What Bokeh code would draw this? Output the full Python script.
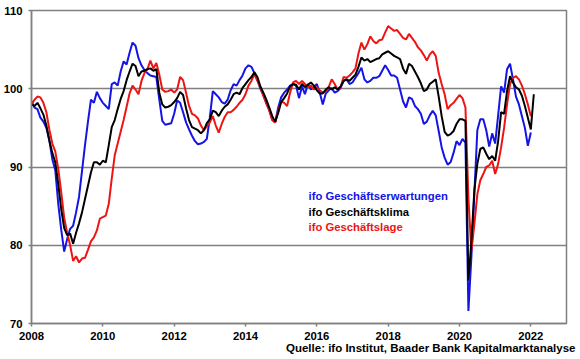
import numpy as np
from bokeh.plotting import figure
from bokeh.models import FixedTicker, Label, Title
from bokeh.embed import file_html
from bokeh.resources import INLINE

start_year = 2008  # first month: January 2008, monthly data

# ifo Geschäftserwartungen (blue), Jan 2008 - Jan 2022
erwartungen = [
    98.4, 97.6, 97.4, 96.3, 95.8, 95.0, 93.4, 91.0, 89.6, 85.3, 82.0, 79.2,
    80.8, 82.1, 82.5, 84.2, 86.2, 89.5, 92.8, 95.8, 98.6, 98.2, 99.6, 98.8,
    98.2, 97.8, 97.4, 100.6, 100.8, 100.4, 102.2, 103.5, 103.1, 104.6, 105.9, 105.5,
    103.9, 103.0, 102.4, 102.0, 101.7, 101.6, 101.5, 98.6, 95.9, 95.4, 95.5, 95.6,
    96.8, 98.5, 98.2, 97.0, 95.7, 94.8, 94.0, 93.3, 92.9, 93.0, 93.2, 93.6,
    96.3, 99.7, 99.3, 98.9, 98.3, 98.1, 98.6, 99.8, 100.6, 100.4, 101.1, 101.7,
    102.6, 103.0, 102.8, 102.0, 101.1, 100.0, 99.2, 98.1, 97.3, 96.0, 95.7, 97.6,
    98.9, 99.5, 99.9, 100.4, 100.6, 100.4, 98.8, 100.3, 99.3, 100.6, 99.9, 100.2,
    100.6, 99.5, 98.0, 99.4, 99.8, 100.1, 99.5, 99.7, 100.1, 101.0, 101.2, 100.6,
    100.8, 101.4, 102.0, 102.7, 101.2, 100.8, 101.0, 101.4, 101.4, 101.6, 102.3, 103.0,
    102.4, 101.7, 101.7, 101.4, 99.9, 98.4, 97.6, 98.9, 98.7, 97.8, 97.4, 96.8,
    95.5, 95.8, 96.6, 97.2, 96.6, 94.6, 92.5, 91.2, 90.3, 90.6, 91.8, 93.3,
    92.8, 93.6, 93.1, 71.6, 78.5, 86.6, 94.7, 96.1, 96.1, 94.7, 92.6, 94.3,
    93.0, 96.6, 100.3, 99.5, 102.5, 103.2, 101.2, 99.0, 98.0, 96.5, 95.0, 92.7,
    94.4,
]

# ifo Geschäftsklima (black), Jan 2008 - Feb 2022
klima = [
    98.0, 97.8, 98.2, 97.5, 96.7, 95.3, 93.4, 91.8, 90.6, 87.8, 84.6, 82.2,
    81.3, 81.5, 80.2, 81.6, 82.8, 84.2, 85.9, 87.6, 89.3, 90.6, 90.6, 90.3,
    90.8, 90.6, 92.8, 95.1, 96.0, 97.4, 98.7, 99.7, 101.1, 102.2, 103.2, 102.9,
    101.6, 102.2, 102.3, 102.5, 102.6, 102.3, 102.5, 99.5, 98.0, 97.6, 97.7, 97.9,
    98.3, 98.8, 99.6, 99.2, 97.5, 96.0, 95.1, 94.9, 94.7, 94.3, 94.7, 95.6,
    96.1, 97.2, 97.0, 96.5, 97.2, 97.7, 98.0, 98.6, 99.3, 99.5, 99.3, 100.1,
    100.6, 101.1, 101.5, 102.1, 101.5, 100.3, 99.5, 98.6, 97.6, 96.5, 95.8, 96.9,
    98.3, 98.8, 99.4, 100.3, 100.6, 100.5, 99.9, 100.6, 100.2, 100.5, 100.8, 100.4,
    99.8, 99.4, 99.4, 99.9, 100.2, 99.9, 100.2, 99.9, 100.3, 101.0, 101.2, 101.0,
    101.4, 101.8, 102.8, 104.0, 103.6, 103.8, 103.4, 103.6, 103.8, 103.9, 104.4, 104.6,
    104.8, 104.5, 104.2, 104.0, 103.8, 102.6, 101.9, 103.2, 102.9, 102.2, 101.5, 100.7,
    99.7, 99.9, 100.6, 100.9, 101.2, 99.0, 96.5, 94.5, 94.0, 94.2, 94.6, 95.5,
    96.1, 96.1, 95.9, 75.5, 80.5, 87.0, 90.4, 92.3, 92.5, 91.7, 91.0, 91.4,
    90.8, 93.3, 97.0, 96.8, 99.7, 101.6, 100.8, 100.2, 99.9, 99.1, 97.8, 96.3,
    94.8, 99.3,
]

# ifo Geschäftslage (red), Jan 2008 - Jan 2022
lage = [
    98.0, 98.6, 99.0, 98.9, 98.2, 97.0, 94.8, 93.0, 92.0, 89.8, 86.8, 83.5,
    81.6, 80.0, 78.0, 78.6, 77.8, 78.3, 78.4, 79.4, 80.5, 81.0, 81.9, 83.4,
    83.6, 83.8, 85.3, 88.5, 91.5, 93.0, 94.5, 96.0, 97.7, 99.4, 100.4, 99.9,
    99.3, 101.0, 102.0, 102.5, 103.6, 102.6, 103.3, 101.8, 99.9, 99.6, 99.7, 99.9,
    99.5, 99.9, 101.5, 101.1, 99.5, 97.8, 96.8, 96.6, 96.2, 95.3, 94.7, 95.2,
    95.7, 96.5, 95.3, 94.4, 95.5, 96.4, 97.0, 97.0, 97.3, 97.7, 98.2, 98.6,
    99.3, 100.4, 101.0, 101.9, 101.0, 100.2, 99.1, 98.2, 97.2, 96.0, 95.7, 97.2,
    98.4, 98.2, 97.8, 99.5, 100.8, 101.0, 100.6, 101.0, 100.6, 100.2, 100.4, 99.9,
    100.2, 99.8, 99.5, 99.7, 100.2, 101.2, 100.6, 99.9, 100.2, 101.5, 101.4, 101.7,
    102.1, 102.6, 104.5, 105.9, 105.0, 105.7, 106.7, 106.1, 105.8, 106.2, 106.3, 107.2,
    108.0, 107.7, 107.4, 107.5, 107.0, 106.5, 106.3, 107.0, 106.5, 106.0, 105.3, 104.9,
    104.3, 103.6, 104.4, 104.8, 104.2, 102.0, 100.6, 99.3, 97.4, 97.9, 98.2, 98.7,
    99.2, 98.8, 97.6, 86.0, 79.3, 82.7, 86.5, 88.3, 89.1, 90.0, 90.2, 90.8,
    89.1, 90.4, 92.5, 95.0, 98.0, 100.6, 101.4, 101.6, 101.2, 100.4, 99.3, 98.0,
    96.5,
]

x_ticks = [2008, 2010, 2012, 2014, 2016, 2018, 2020, 2022]
y_ticks = [70, 80, 90, 100, 110]
grid_values = [80, 90, 100]
series_names = ["ifo Geschäftserwartungen", "ifo Geschäftsklima", "ifo Geschäftslage"]
source_text = "Quelle: ifo Institut, Baader Bank Kapitalmarktanalyse"

BLUE = "#1414e6"
BLACK = "#000000"
RED = "#ee1414"
GRAY = "#808080"
FONT = "Liberation Sans"
FSIZE = "11.3px"


def month_axis(values):
    return start_year + np.arange(len(values)) / 12.0


p = figure(
    width=578, height=357,
    x_range=(2008, 2023), y_range=(70, 110),
    output_backend="svg", toolbar_location=None,
    min_border_left=30, min_border_top=10, min_border_right=12, min_border_bottom=34,
    background_fill_color="white", border_fill_color="white",
)

p.line(month_axis(erwartungen), erwartungen, color=BLUE, line_width=2)
p.line(month_axis(lage), lage, color=RED, line_width=2)
p.line(month_axis(klima), klima, color=BLACK, line_width=2)

p.xaxis.ticker = FixedTicker(ticks=x_ticks)
p.yaxis.ticker = FixedTicker(ticks=y_ticks)
for ax in (p.xaxis[0], p.yaxis[0]):
    ax.axis_line_color = GRAY
    ax.axis_line_width = 1.5
    ax.major_tick_line_color = GRAY
    ax.major_tick_line_width = 1.5
    ax.major_tick_out = 3
    ax.major_tick_in = 0
    ax.minor_tick_line_color = None
    ax.major_label_text_font = FONT
    ax.major_label_text_font_style = "bold"
    ax.major_label_text_font_size = FSIZE
    ax.major_label_text_color = "black"
p.xaxis.major_label_standoff = 5
p.yaxis.major_label_standoff = 6

p.xgrid.visible = False
p.ygrid.ticker = FixedTicker(ticks=grid_values)
p.ygrid.grid_line_color = GRAY
p.ygrid.grid_line_width = 1.3

p.outline_line_color = GRAY
p.outline_line_width = 1.5

legend_colors = [BLUE, BLACK, RED]
legend_y = [128, 112, 97]
for name, col, yy in zip(series_names, legend_colors, legend_y):
    p.add_layout(Label(x=277, y=yy, x_units="screen", y_units="screen", text=name,
                       text_color=col, text_font=FONT, text_font_style="bold",
                       text_font_size=FSIZE, text_baseline="middle", text_align="left"))

p.add_layout(Title(text=source_text, align="right", offset=-9, standoff=-6,
                   text_color="black", text_font=FONT, text_font_style="bold",
                   text_font_size="11.5px"), "below")

open("out.html", "w").write(file_html(p, INLINE))
